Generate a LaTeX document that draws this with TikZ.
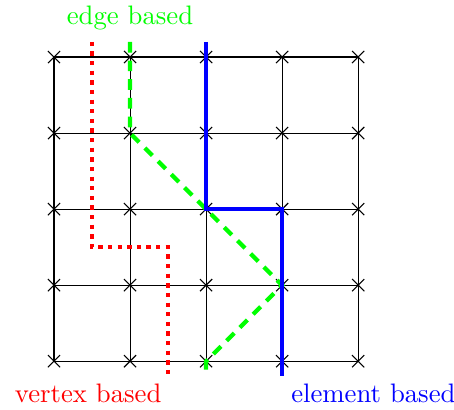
\documentclass[tikz,border=0pt]{standalone}
\begin{document}
\begin{tikzpicture}[x=1cm,y=1cm]
	%set diagram bounds
	\useasboundingbox (-0.71,-0.63) rectangle (5.26,4.75);
	%Grid lines
	\foreach \i in {0,...,4} {
		\draw (\i,0) -- (\i,4) ;
		\draw (0,\i) -- (4,\i) ;
	}
	%Vertex crosses
	\foreach \i in {0,...,4} {
		\foreach \j in {0,...,4} {
			\draw (\i-0.08,\j-0.08) -- (\i+0.08,\j+0.08) (\i-0.08,\j+0.08) -- (\i+0.08,\j-0.08) ;
		}
	}
	%Straight Lines: vertex based
	\draw [color=red, line width=1.6pt, dotted]  (0.5,4.2) -- (0.5,1.5) -- (1.5,1.5) -- (1.5,-0.2) ;
	%Straight Lines: edge based
	\draw [color=green, line width=1.6pt, dash pattern={on 4pt off 3pt}]  (1,4.2) -- (1,3) -- (3,1) -- (2,0) -- (2,-0.2) ;
	%Straight Lines: element based
	\draw [color=blue, line width=1.7pt]  (2,4.2) -- (2,2) -- (3,2) -- (3,-0.2) ;
	% Text Node
	\node (edge) [color=green] at (1,4.51) {edge based};
	% Text Node
	\node (vertex) [color=red] at (0.45,-0.42) {vertex based};
	% Text Node
	\node (element) [color=blue] at (4.2,-0.42) {element based};
\end{tikzpicture}
\end{document}
